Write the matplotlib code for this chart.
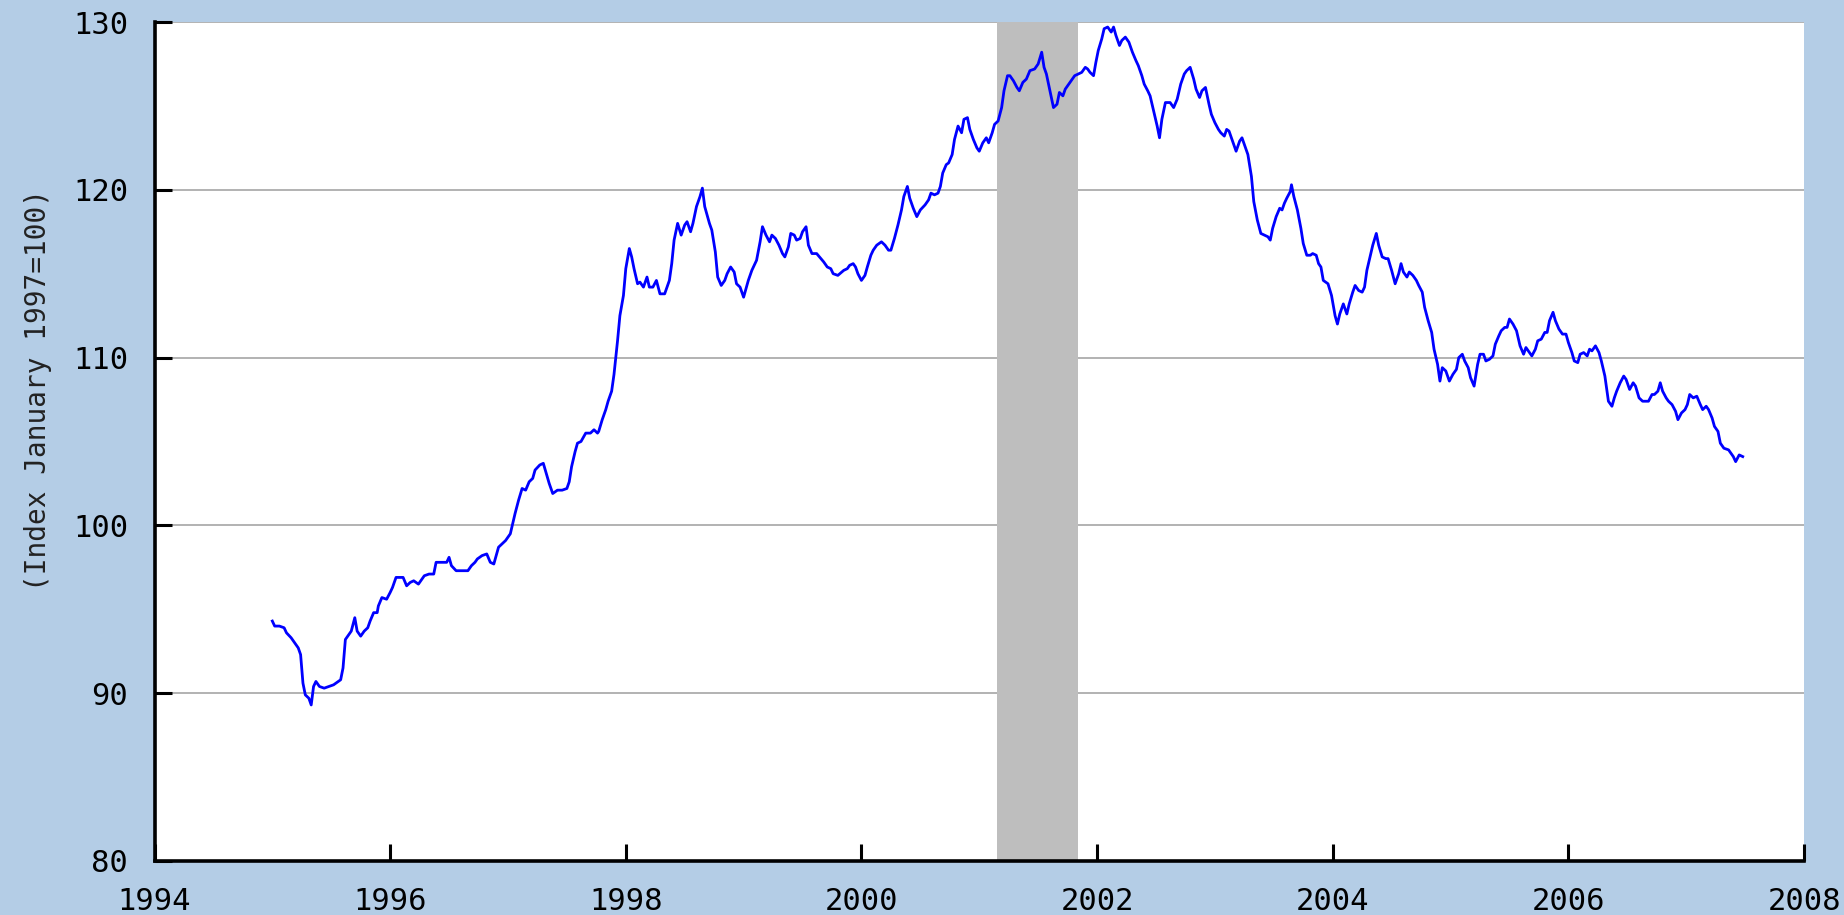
import matplotlib
matplotlib.use("Agg")
import matplotlib.pyplot as plt

# Decimal-year dates and index values (Index January 1997 = 100)
dates = [
    1995.00, 1995.02, 1995.06, 1995.10, 1995.12, 1995.16, 1995.19, 1995.22, 1995.24, 1995.26,
    1995.28, 1995.31, 1995.33, 1995.35, 1995.37, 1995.40, 1995.44, 1995.48, 1995.52, 1995.58,
    1995.60, 1995.62, 1995.65, 1995.67, 1995.70, 1995.72, 1995.75, 1995.78, 1995.81, 1995.83,
    1995.86, 1995.89, 1995.90, 1995.93, 1995.97,
    1996.00, 1996.02, 1996.05, 1996.08, 1996.11, 1996.14, 1996.17, 1996.20, 1996.24, 1996.27,
    1996.29, 1996.33, 1996.37, 1996.39, 1996.43, 1996.48, 1996.50, 1996.52, 1996.56, 1996.61,
    1996.66, 1996.69, 1996.72, 1996.74, 1996.78, 1996.82, 1996.85, 1996.88, 1996.90, 1996.92,
    1996.95, 1996.98,
    1997.02, 1997.04, 1997.06, 1997.09, 1997.12, 1997.15, 1997.18, 1997.21, 1997.23, 1997.27,
    1997.30, 1997.35, 1997.38, 1997.42, 1997.46, 1997.50, 1997.52, 1997.54, 1997.57, 1997.59,
    1997.62, 1997.66, 1997.70, 1997.73, 1997.76, 1997.77, 1997.80, 1997.83, 1997.85, 1997.88,
    1997.90, 1997.93, 1997.95, 1997.98,
    1998.00, 1998.03, 1998.05, 1998.07, 1998.10, 1998.12, 1998.15, 1998.18, 1998.20, 1998.23,
    1998.26, 1998.29, 1998.33, 1998.37, 1998.39, 1998.41, 1998.44, 1998.47, 1998.50, 1998.52,
    1998.55, 1998.57, 1998.60, 1998.63, 1998.65, 1998.67, 1998.71, 1998.73, 1998.76, 1998.78,
    1998.81, 1998.84, 1998.86, 1998.89, 1998.92, 1998.94, 1998.97,
    1999.00, 1999.04, 1999.07, 1999.11, 1999.14, 1999.16, 1999.19, 1999.22, 1999.24, 1999.27,
    1999.30, 1999.33, 1999.35, 1999.38, 1999.40, 1999.43, 1999.45, 1999.48, 1999.50, 1999.53,
    1999.55, 1999.58, 1999.62, 1999.68, 1999.71, 1999.74, 1999.76, 1999.80, 1999.85, 1999.88,
    1999.90, 1999.93, 1999.95, 1999.97,
    2000.00, 2000.03, 2000.05, 2000.08, 2000.10, 2000.13, 2000.17, 2000.20, 2000.23, 2000.25,
    2000.28, 2000.31, 2000.34, 2000.36, 2000.39, 2000.41, 2000.44, 2000.47, 2000.50, 2000.54,
    2000.57, 2000.59, 2000.62, 2000.65, 2000.67, 2000.69, 2000.72, 2000.74, 2000.77, 2000.79,
    2000.82, 2000.85, 2000.87, 2000.90, 2000.92, 2000.95, 2000.98,
    2001.00, 2001.03, 2001.06, 2001.08, 2001.11, 2001.13, 2001.16, 2001.19, 2001.21, 2001.24,
    2001.26, 2001.29, 2001.32, 2001.34, 2001.37, 2001.40, 2001.43, 2001.47, 2001.50, 2001.53,
    2001.55, 2001.57, 2001.60, 2001.63, 2001.66, 2001.68, 2001.71, 2001.73, 2001.76, 2001.78,
    2001.81, 2001.84, 2001.87, 2001.90, 2001.92, 2001.94, 2001.97, 2001.99,
    2002.01, 2002.04, 2002.06, 2002.09, 2002.12, 2002.14, 2002.16, 2002.19, 2002.21, 2002.24,
    2002.27, 2002.30, 2002.33, 2002.35, 2002.38, 2002.40, 2002.43, 2002.45, 2002.48, 2002.51,
    2002.53, 2002.55, 2002.58, 2002.62, 2002.65, 2002.68, 2002.71, 2002.74, 2002.76, 2002.79,
    2002.82, 2002.84, 2002.87, 2002.89, 2002.92, 2002.95, 2002.97,
    2003.00, 2003.03, 2003.05, 2003.08, 2003.10, 2003.12, 2003.15, 2003.18, 2003.21, 2003.23,
    2003.25, 2003.28, 2003.31, 2003.33, 2003.36, 2003.39, 2003.42, 2003.45, 2003.47, 2003.49,
    2003.52, 2003.55, 2003.57, 2003.59, 2003.61, 2003.64, 2003.65, 2003.67, 2003.70, 2003.73,
    2003.75, 2003.78, 2003.81, 2003.83, 2003.86, 2003.88, 2003.90, 2003.92, 2003.96, 2003.99,
    2004.02, 2004.04, 2004.06, 2004.09, 2004.12, 2004.14, 2004.17, 2004.19, 2004.22, 2004.25,
    2004.27, 2004.29, 2004.31, 2004.34, 2004.37, 2004.39, 2004.42, 2004.45, 2004.47, 2004.50,
    2004.53, 2004.56, 2004.58, 2004.60, 2004.63, 2004.65, 2004.68, 2004.71, 2004.73, 2004.76,
    2004.78, 2004.81, 2004.84, 2004.86, 2004.89, 2004.91, 2004.93, 2004.96, 2004.99,
    2005.02, 2005.05, 2005.07, 2005.10, 2005.12, 2005.15, 2005.17, 2005.20, 2005.23, 2005.25,
    2005.28, 2005.30, 2005.33, 2005.36, 2005.38, 2005.41, 2005.43, 2005.46, 2005.48, 2005.50,
    2005.53, 2005.56, 2005.59, 2005.62, 2005.64, 2005.66, 2005.69, 2005.72, 2005.74, 2005.77,
    2005.80, 2005.82, 2005.84, 2005.87, 2005.89, 2005.92, 2005.95, 2005.98,
    2006.00, 2006.03, 2006.05, 2006.08, 2006.10, 2006.13, 2006.16, 2006.18, 2006.20, 2006.23,
    2006.26, 2006.28, 2006.31, 2006.34, 2006.37, 2006.39, 2006.41, 2006.44, 2006.47, 2006.49,
    2006.52, 2006.55, 2006.57, 2006.60, 2006.63, 2006.68, 2006.71, 2006.73, 2006.76, 2006.78,
    2006.80, 2006.83, 2006.85, 2006.88, 2006.91, 2006.93, 2006.96, 2006.99,
    2007.01, 2007.03, 2007.06, 2007.09, 2007.12, 2007.14, 2007.17, 2007.19, 2007.22, 2007.24,
    2007.27, 2007.29, 2007.32, 2007.36, 2007.38, 2007.40, 2007.42, 2007.45, 2007.48,
]

values = [
    94.3, 94.0, 94.0, 93.9, 93.6, 93.3, 93.0, 92.7, 92.3, 90.6,
    89.9, 89.7, 89.3, 90.4, 90.7, 90.4, 90.3, 90.4, 90.5, 90.8,
    91.5, 93.2, 93.5, 93.7, 94.5, 93.7, 93.4, 93.7, 93.9, 94.3,
    94.8, 94.8, 95.2, 95.7, 95.6,
    96.0, 96.3, 96.9, 96.9, 96.9, 96.4, 96.6, 96.7, 96.5, 96.8,
    97.0, 97.1, 97.1, 97.8, 97.8, 97.8, 98.1, 97.6, 97.3, 97.3,
    97.3, 97.6, 97.8, 98.0, 98.2, 98.3, 97.8, 97.7, 98.2, 98.7,
    98.9, 99.1,
    99.5, 100.1, 100.7, 101.5, 102.2, 102.1, 102.6, 102.8, 103.3, 103.6,
    103.7, 102.5, 101.9, 102.1, 102.1, 102.2, 102.6, 103.5, 104.4, 104.9,
    105.0, 105.5, 105.5, 105.7, 105.5, 105.6, 106.3, 106.9, 107.4, 108.0,
    109.0, 111.0, 112.5, 113.7,
    115.3, 116.5, 116.0, 115.3, 114.4, 114.5, 114.2, 114.8, 114.2, 114.2,
    114.6, 113.8, 113.8, 114.6, 115.6, 117.0, 118.0, 117.3, 117.9, 118.1,
    117.5, 118.0, 119.0, 119.6, 120.1, 119.0, 118.0, 117.6, 116.3, 114.8,
    114.3, 114.6, 115.0, 115.4, 115.1, 114.4, 114.2,
    113.6, 114.6, 115.2, 115.8, 116.9, 117.8, 117.3, 116.9, 117.3, 117.1,
    116.7, 116.2, 116.0, 116.6, 117.4, 117.3, 117.0, 117.1, 117.5, 117.8,
    116.7, 116.2, 116.2, 115.7, 115.4, 115.3, 115.0, 114.9, 115.2, 115.3,
    115.5, 115.6, 115.4, 115.0,
    114.6, 114.9, 115.4, 116.1, 116.4, 116.7, 116.9, 116.7, 116.4, 116.4,
    117.1, 117.9, 118.8, 119.6, 120.2, 119.5, 118.9, 118.4, 118.8, 119.1,
    119.4, 119.8, 119.7, 119.8, 120.2, 121.0, 121.5, 121.6, 122.1, 123.0,
    123.8, 123.4, 124.2, 124.3, 123.6, 123.0, 122.5,
    122.3, 122.8, 123.1, 122.8, 123.4, 123.9, 124.1, 124.9, 125.9, 126.8,
    126.8, 126.5, 126.1, 125.9, 126.4, 126.6, 127.1, 127.2, 127.5, 128.2,
    127.3, 126.9, 125.9, 124.9, 125.1, 125.8, 125.6, 126.0, 126.3, 126.5,
    126.8, 126.9, 127.0, 127.3, 127.2, 127.0, 126.8, 127.6,
    128.3, 129.0, 129.6, 129.7, 129.4, 129.7, 129.2, 128.6, 128.9, 129.1,
    128.8, 128.2, 127.7, 127.4, 126.8, 126.3, 125.9, 125.6, 124.7, 123.8,
    123.1, 124.2, 125.2, 125.2, 124.9, 125.4, 126.3, 126.9, 127.1, 127.3,
    126.6, 126.0, 125.5, 125.9, 126.1, 125.1, 124.5,
    124.0, 123.6, 123.4, 123.2, 123.6, 123.5, 122.9, 122.3, 122.9, 123.1,
    122.7, 122.1, 120.8, 119.3, 118.2, 117.4, 117.3, 117.2, 117.0, 117.7,
    118.4, 118.9, 118.8, 119.2, 119.5, 119.9, 120.3, 119.6, 118.8, 117.7,
    116.8, 116.1, 116.1, 116.2, 116.1, 115.6, 115.4, 114.6, 114.4, 113.7,
    112.5, 112.0, 112.6, 113.2, 112.6, 113.2, 113.9, 114.3, 114.0, 113.9,
    114.2, 115.2, 115.8, 116.7, 117.4, 116.7, 116.0, 115.9, 115.9, 115.2,
    114.4, 115.0, 115.6, 115.1, 114.8, 115.1, 114.9, 114.6, 114.3, 113.9,
    113.0, 112.2, 111.5, 110.5, 109.6, 108.6, 109.4, 109.2, 108.6,
    109.0, 109.3, 110.0, 110.2, 109.8, 109.4, 108.8, 108.3, 109.6, 110.2,
    110.2, 109.8, 109.9, 110.1, 110.8, 111.3, 111.6, 111.8, 111.8, 112.3,
    112.0, 111.6, 110.7, 110.2, 110.6, 110.4, 110.1, 110.5, 111.0, 111.1,
    111.5, 111.5, 112.2, 112.7, 112.2, 111.7, 111.4, 111.4,
    110.9, 110.3, 109.8, 109.7, 110.2, 110.3, 110.1, 110.5, 110.4, 110.7,
    110.3, 109.8, 108.9, 107.4, 107.1, 107.6, 108.0, 108.5, 108.9, 108.7,
    108.1, 108.5, 108.3, 107.6, 107.4, 107.4, 107.8, 107.8, 108.0, 108.5,
    108.0, 107.6, 107.4, 107.2, 106.8, 106.3, 106.7, 106.9,
    107.2, 107.8, 107.6, 107.7, 107.2, 106.9, 107.1, 106.9, 106.4, 105.9,
    105.6, 104.9, 104.6, 104.5, 104.3, 104.1, 103.8, 104.2, 104.1,
]

recession = (2001.15, 2001.84)
x_ticks = [1994, 1996, 1998, 2000, 2002, 2004, 2006, 2008]
y_ticks = [80, 90, 100, 110, 120, 130]
y_label = "(Index January 1997=100)"

BG = "#b4cde6"
W, H = 1844, 915
fig = plt.figure(figsize=(W / 100, H / 100), dpi=100, facecolor=BG)
ax = fig.add_axes([154.5 / W, 1 - 861 / H, (1804 - 154.5) / W, (861 - 22) / H])
ax.set_facecolor("white")

ax.set_xlim(1994, 2008)
ax.set_ylim(80, 130)

for yv in y_ticks[1:]:
    ax.axhline(yv, color="#adadad", lw=1.3, zorder=1)

ax.axvspan(recession[0], recession[1], color="#bebebe", lw=0, zorder=2)

ax.plot(dates, values, color="#0000ff", lw=2.0, zorder=3)

for s in ["top", "right"]:
    ax.spines[s].set_visible(False)
for s in ["left", "bottom"]:
    ax.spines[s].set_linewidth(2.6)
    ax.spines[s].set_color("black")
    ax.spines[s].set_zorder(5)

ax.set_xticks(x_ticks)
ax.set_yticks(y_ticks)
ax.set_xticklabels([str(t) for t in x_ticks])
ax.set_yticklabels([str(t) for t in y_ticks])
ax.tick_params(axis="both", direction="in", length=12.5, width=2.2, color="black",
               labelsize=22, pad=19)
for lab in ax.get_xticklabels() + ax.get_yticklabels():
    lab.set_fontfamily("DejaVu Sans Mono")

fig.text(38 / W, 1 - 390 / H, y_label, rotation=90, ha="center", va="center",
         fontsize=20, family="DejaVu Sans Mono", color="#222222")

fig.savefig("out.png", dpi=100, facecolor=BG)
